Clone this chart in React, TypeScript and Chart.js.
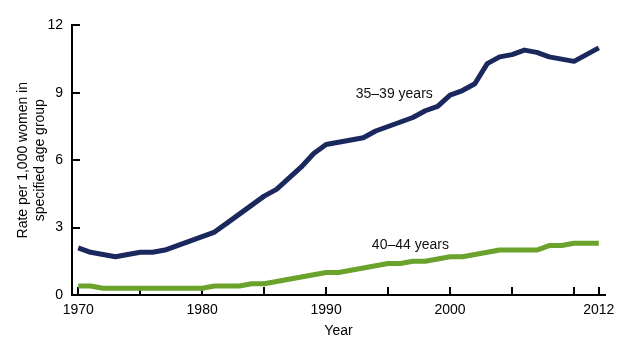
import React, { useEffect, useRef } from "react";
import { Chart, registerables } from "chart.js";

Chart.register(...registerables);

const years = [
  1970, 1971, 1972, 1973, 1974, 1975, 1976, 1977, 1978, 1979,
  1980, 1981, 1982, 1983, 1984, 1985, 1986, 1987, 1988, 1989,
  1990, 1991, 1992, 1993, 1994, 1995, 1996, 1997, 1998, 1999,
  2000, 2001, 2002, 2003, 2004, 2005, 2006, 2007, 2008, 2009,
  2010, 2011, 2012,
];

const rate35to39 = [
  2.1, 1.9, 1.8, 1.7, 1.8, 1.9, 1.9, 2.0, 2.2, 2.4,
  2.6, 2.8, 3.2, 3.6, 4.0, 4.4, 4.7, 5.2, 5.7, 6.3,
  6.7, 6.8, 6.9, 7.0, 7.3, 7.5, 7.7, 7.9, 8.2, 8.4,
  8.9, 9.1, 9.4, 10.3, 10.6, 10.7, 10.9, 10.8, 10.6, 10.5,
  10.4, 10.7, 11.0,
];

const rate40to44 = [
  0.4, 0.4, 0.3, 0.3, 0.3, 0.3, 0.3, 0.3, 0.3, 0.3,
  0.3, 0.4, 0.4, 0.4, 0.5, 0.5, 0.6, 0.7, 0.8, 0.9,
  1.0, 1.0, 1.1, 1.2, 1.3, 1.4, 1.4, 1.5, 1.5, 1.6,
  1.7, 1.7, 1.8, 1.9, 2.0, 2.0, 2.0, 2.0, 2.2, 2.2,
  2.3, 2.3, 2.3,
];

const seriesNames = ["35\u201339 years", "40\u201344 years"];
const xTickValues = [1970, 1975, 1980, 1985, 1990, 1995, 2000, 2005, 2010, 2012];
const xTickLabels = [1970, 1980, 1990, 2000, 2012];
const yTickValues = [0, 3, 6, 9, 12];
const yAxisTitle = ["Rate per 1,000 women in", "specified age group"];
const xAxisTitle = "Year";

// label anchor points in data units
const seriesLabelAnchors = [
  { x: 1995.5, y: 8.95 },
  { x: 1996.8, y: 2.2 },
];

const FONT = "'Liberation Sans', Arial, Helvetica, sans-serif";
const COLORS = ["#1b285e", "#6aa22b"];

const labelPlugin = {
  id: "seriesLabels",
  afterDatasetsDraw(chart: any) {
    const { ctx, scales } = chart;
    ctx.save();
    ctx.font = `14px ${FONT}`;
    ctx.fillStyle = "#111";
    ctx.textAlign = "center";
    ctx.textBaseline = "middle";
    seriesNames.forEach((name, i) => {
      const a = seriesLabelAnchors[i];
      ctx.fillText(name, scales.x.getPixelForValue(a.x), scales.y.getPixelForValue(a.y));
    });
    ctx.restore();
  },
};

export default function App() {
  const canvasRef = useRef<HTMLCanvasElement>(null);

  useEffect(() => {
    document.body.style.margin = "0";
    const canvas = canvasRef.current;
    if (!canvas) return;
    const tickGrid = {
      drawOnChartArea: false,
      drawTicks: true,
      tickLength: -8,
      tickWidth: 2,
      tickColor: "#000",
      color: "#000",
      lineWidth: 2,
    };
    const chart = new Chart(canvas, {
      type: "line",
      data: {
        datasets: [
          {
            label: seriesNames[0],
            data: years.map((y, i) => ({ x: y, y: rate35to39[i] })),
            borderColor: COLORS[0],
            backgroundColor: COLORS[0],
            borderWidth: 5,
            pointRadius: 0,
            tension: 0,
            borderJoinStyle: "round",
          },
          {
            label: seriesNames[1],
            data: years.map((y, i) => ({ x: y, y: rate40to44[i] })),
            borderColor: COLORS[1],
            backgroundColor: COLORS[1],
            borderWidth: 5,
            pointRadius: 0,
            tension: 0,
            borderJoinStyle: "round",
          },
        ],
      },
      options: {
        animation: false,
        responsive: false,
        maintainAspectRatio: false,
        layout: { padding: { top: 23, right: 25, left: 0, bottom: 0 } },
        plugins: {
          legend: { display: false },
          tooltip: { enabled: false },
        },
        scales: {
          x: {
            type: "linear",
            min: 1969.5,
            max: 2012.5,
            afterBuildTicks: (scale: any) => {
              scale.ticks = xTickValues.map((v) => ({ value: v }));
            },
            afterFit: (scale: any) => {
              scale.height = 60;
            },
            ticks: {
              autoSkip: false,
              maxRotation: 0,
              padding: 15,
              color: "#000",
              font: { family: FONT, size: 14 },
              callback: (v: any) => (xTickLabels.includes(Number(v)) ? String(v) : ""),
            },
            grid: tickGrid,
            border: { display: true, color: "#000", width: 2 },
            title: {
              display: true,
              text: xAxisTitle,
              color: "#000",
              font: { family: FONT, size: 14 },
              padding: { top: 0, bottom: 15 },
            },
          },
          y: {
            min: 0,
            max: 12,
            afterBuildTicks: (scale: any) => {
              scale.ticks = yTickValues.map((v) => ({ value: v }));
            },
            afterFit: (scale: any) => {
              scale.width = 72;
            },
            ticks: {
              padding: 17,
              color: "#000",
              font: { family: FONT, size: 14 },
            },
            grid: tickGrid,
            border: { display: true, color: "#000", width: 2 },
            title: {
              display: true,
              text: yAxisTitle,
              color: "#000",
              font: { family: FONT, size: 14, lineHeight: 1.24 },
              padding: { top: 14, bottom: 0 },
            },
          },
        },
      },
      plugins: [labelPlugin],
    } as any);
    return () => chart.destroy();
  }, []);

  return (
    <div style={{ width: 630, height: 355 }}>
      <canvas ref={canvasRef} width={630} height={355} />
    </div>
  );
}
